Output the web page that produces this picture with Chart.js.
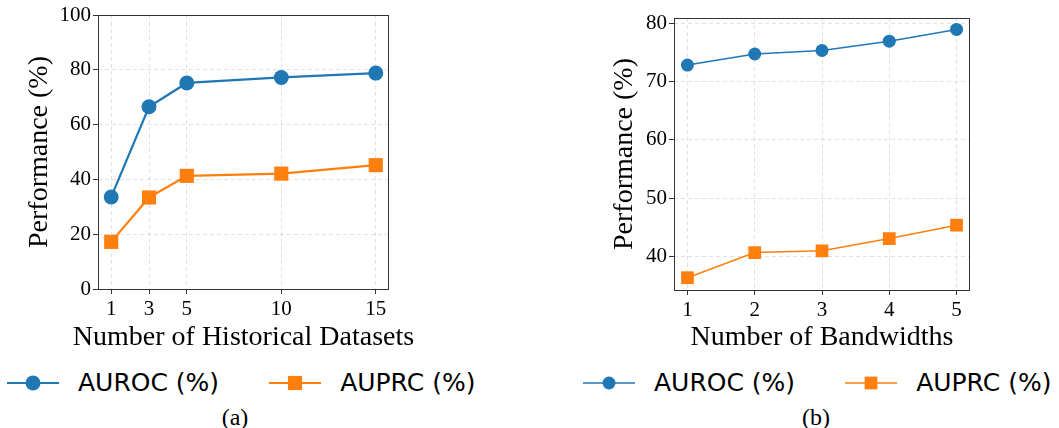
<!DOCTYPE html>
<html>
<head>
<meta charset="utf-8">
<script src="https://cdn.jsdelivr.net/npm/chart.js@4/dist/chart.umd.min.js"></script>
<style>
  body { margin: 0; background: #fff; width: 1059px; height: 428px; position: relative; overflow: hidden; }
  canvas { position: absolute; top: 0; }
  #c1 { left: 0; }
  #c2 { left: 530px; }
  .legend { position: absolute; top: 369px; display: flex; align-items: center; font-family: "DejaVu Sans"; font-size: 25px; line-height: 28px; color: #000; white-space: nowrap; }
  .item { display: flex; align-items: center; margin-right: 50px; }
  .item svg { margin-right: 19px; }
  .cap { position: absolute; top: 404px; font-family: "Liberation Serif"; font-size: 24px; transform: translateX(-50%); }
</style>
</head>
<body>
<canvas id="c1" width="530" height="356"></canvas>
<canvas id="c2" width="529" height="356"></canvas>
<div class="legend" id="lg1" style="left:7px"></div>
<div class="legend" id="lg2" style="left:583px"></div>
<div class="cap" style="left:235px">(a)</div>
<div class="cap" style="left:816px">(b)</div>
<script>
// (a) number of historical datasets
var histX = [1, 3, 5, 10, 15];
var histAuroc = [33.6, 66.5, 75.2, 77.2, 78.8];
var histAuprc = [17.2, 33.4, 41.3, 42.1, 45.2];
var histYTicks = [0, 20, 40, 60, 80, 100];

// (b) number of bandwidths
var bandX = [1, 2, 3, 4, 5];
var bandAuroc = [72.8, 74.7, 75.3, 76.9, 78.9];
var bandAuprc = [36.4, 40.7, 41.0, 43.1, 45.4];
var bandYTicks = [40, 50, 60, 70, 80];

var labelAuroc = 'AUROC (%)';
var labelAuprc = 'AUPRC (%)';

const BLUE = '#1f77b4';
const ORANGE = '#ff7f0e';
const SERIF = 'Liberation Serif';

// box around the plot area, like the matplotlib spines
const framePlugin = {
  id: 'frame',
  afterDraw(chart) {
    const a = chart.chartArea, ctx = chart.ctx;
    ctx.save();
    ctx.strokeStyle = '#333';
    ctx.lineWidth = 1;
    ctx.strokeRect(a.left + 0.5, a.top + 0.5, a.right - a.left - 1, a.bottom - a.top);
    ctx.restore();
  }
};

// x title drawn by hand: the built-in one gets squeezed to the plot width
const xTitlePlugin = {
  id: 'xTitle',
  afterDraw(chart, args, opts) {
    const a = chart.chartArea, ctx = chart.ctx, xs = chart.scales.x;
    ctx.save();
    ctx.font = '28px "' + SERIF + '"';
    ctx.fillStyle = '#000';
    ctx.textAlign = 'center';
    ctx.textBaseline = 'middle';
    ctx.fillText(opts.text, (a.left + a.right) / 2, xs.bottom - 16.8);
    ctx.restore();
  }
};

function points(xs, ys) {
  return xs.map((x, i) => ({x: x, y: ys[i]}));
}

function makePanel(id, xs, auroc, auprc, o) {
  const ds = [
    {label: labelAuroc, data: points(xs, auroc), borderColor: BLUE, backgroundColor: BLUE,
     borderWidth: o.lw, pointStyle: 'circle', pointRadius: o.rc, pointHoverRadius: o.rc, pointBorderWidth: 0},
    {label: labelAuprc, data: points(xs, auprc), borderColor: ORANGE, backgroundColor: ORANGE,
     borderWidth: o.lw, pointStyle: 'rect', pointRadius: o.rs, pointHoverRadius: o.rs, pointBorderWidth: 0}
  ];
  const grid = {color: '#d9d9d9', lineWidth: 0.8, tickLength: 5, tickColor: '#333', tickWidth: 1, tickBorderDash: []};
  return new Chart(document.getElementById(id), {
    type: 'line',
    data: {datasets: ds},
    options: {
      responsive: false,
      animation: false,
      layout: {padding: o.pad},
      plugins: {legend: {display: false}, tooltip: {enabled: false}, xTitle: {text: o.xtitle}},
      scales: {
        x: {
          type: 'linear', min: o.xmin, max: o.xmax,
          afterBuildTicks: s => { s.ticks = o.xticks.map(v => ({value: v})); },
          afterFit: s => { s.height = o.xh; },
          grid: grid, border: {display: false, dash: [4, 3]},
          ticks: {color: '#000', padding: 3, font: {family: SERIF, size: 21}}
        },
        y: {
          type: 'linear', min: o.ymin, max: o.ymax,
          afterBuildTicks: s => { s.ticks = o.yticks.map(v => ({value: v})); },
          afterFit: s => { s.width = o.yw; },
          grid: grid, border: {display: false, dash: [4, 3]},
          ticks: {color: '#000', padding: 2, font: {family: SERIF, size: 21}},
          title: {display: true, text: 'Performance (%)', color: '#000', padding: 0, font: {family: SERIF, size: 28}}
        }
      }
    },
    plugins: [framePlugin, xTitlePlugin]
  });
}

function buildLegend(chart, boxId, o) {
  const box = document.getElementById(boxId);
  chart.data.datasets.forEach(d => {
    const item = document.createElement('div');
    item.className = 'item';
    let mk;
    if (d.pointStyle === 'circle') {
      mk = '<circle cx="26" cy="12" r="' + o.rc + '" fill="' + d.backgroundColor + '"/>';
    } else {
      const s = o.rs * Math.SQRT1_2;
      mk = '<rect x="' + (26 - s) + '" y="' + (12 - s) + '" width="' + 2 * s + '" height="' + 2 * s + '" fill="' + d.backgroundColor + '"/>';
    }
    item.innerHTML = '<svg width="52" height="24"><line x1="0" y1="12" x2="52" y2="12" stroke="' + d.borderColor +
      '" stroke-width="' + o.lw + '"/>' + mk + '</svg><span>' + d.label + '</span>';
    box.appendChild(item);
  });
}

const optA = {lw: 2.2, rc: 7.5, rs: 10, pad: {left: 23, right: 141, top: 15, bottom: 2},
  xmin: 0.3, xmax: 15.7, xticks: histX, ymin: 0, ymax: 100, yticks: histYTicks,
  xh: 65, yw: 75, xtitle: 'Number of Historical Datasets'};
const optB = {lw: 1.5, rc: 6.5, rs: 9, pad: {left: 78, right: 89, top: 18, bottom: 2},
  xmin: 0.8, xmax: 5.2, xticks: bandX, ymin: 34.3, ymax: 80.86, yticks: bandYTicks,
  xh: 64, yw: 66, xtitle: 'Number of Bandwidths'};

const chartA = makePanel('c1', histX, histAuroc, histAuprc, optA);
const chartB = makePanel('c2', bandX, bandAuroc, bandAuprc, optB);
buildLegend(chartA, 'lg1', optA);
buildLegend(chartB, 'lg2', optB);
</script>
</body>
</html>
